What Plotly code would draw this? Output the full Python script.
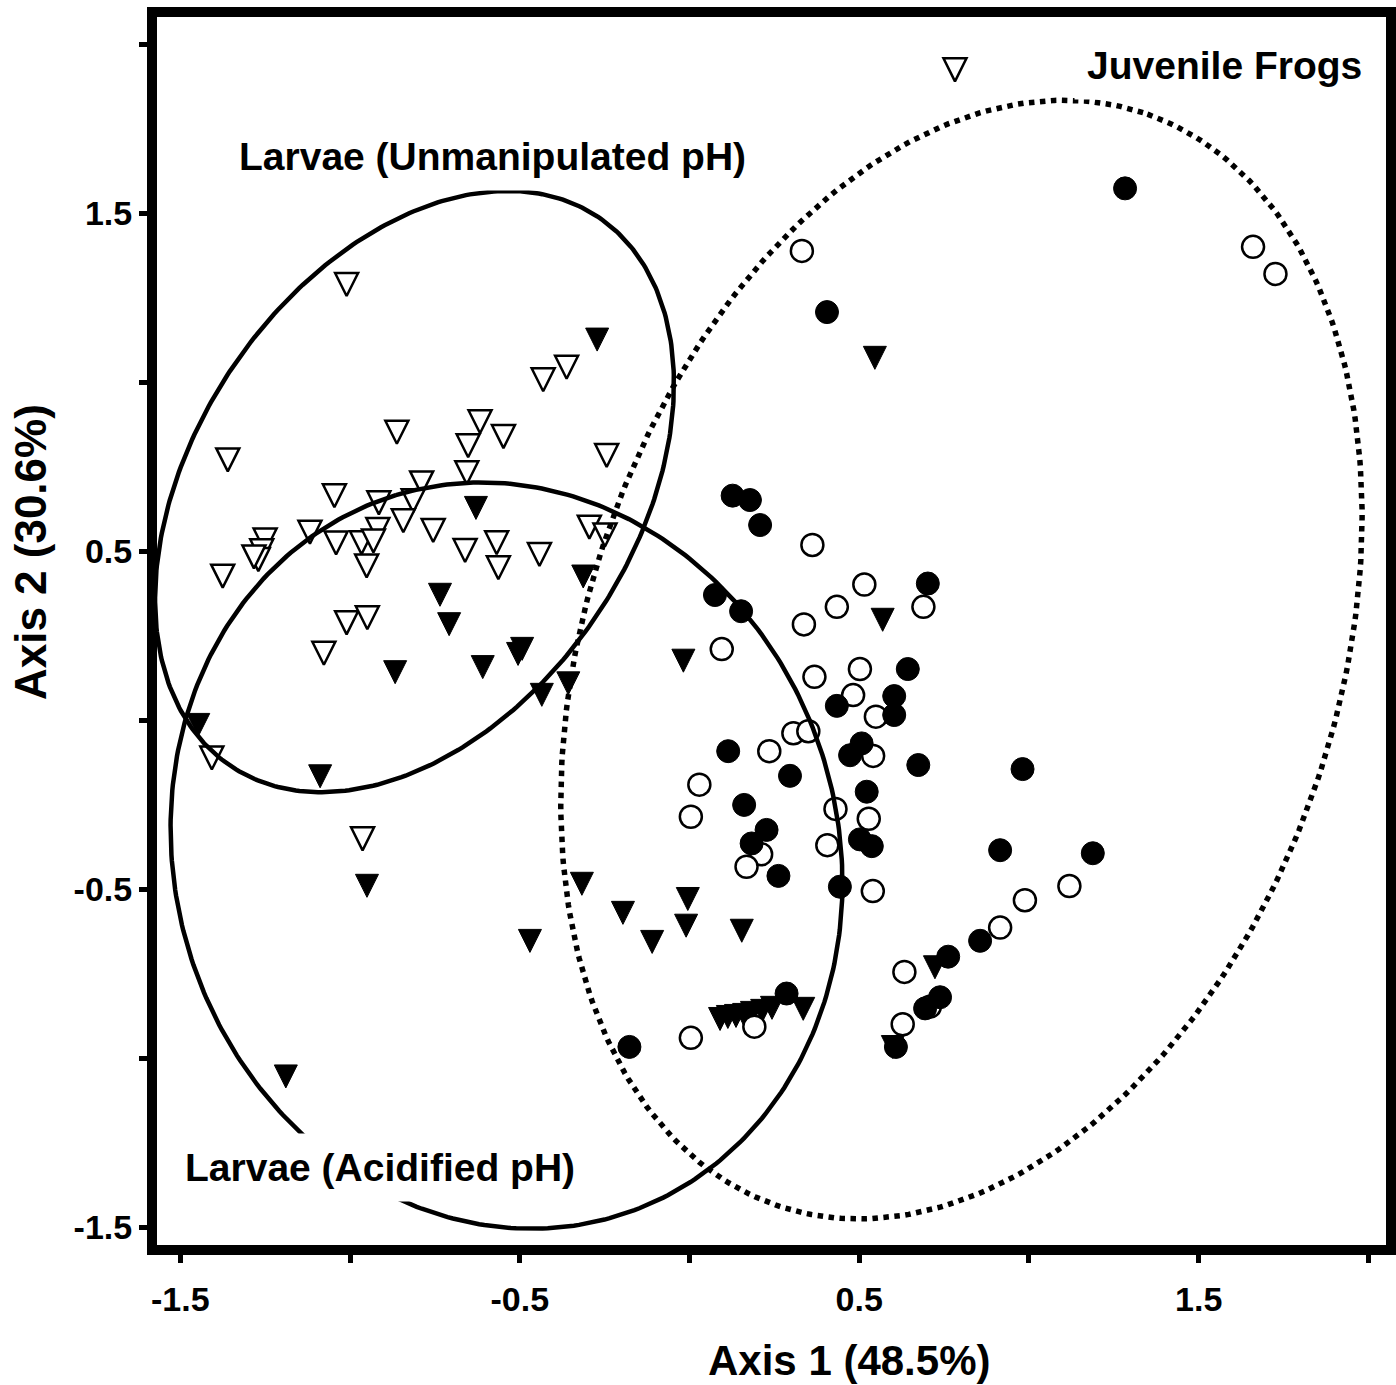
import numpy as np
import plotly.graph_objects as go

# ---------------- data ----------------
# Larvae, unmanipulated pH (open down-triangles)
unmanip_x = [-1.010, -1.360, -0.862, -0.617, -0.652, -0.548, -0.431, -0.362, -0.244, -0.656,
             -0.789, -1.046, -0.915, -0.814, -0.843, -0.918, -0.755, -1.118, -1.041, -0.966,
             -0.931, -0.951, -0.661, -0.568, -0.563, -0.442, -0.295, -0.249, -1.250, -1.260,
             -1.270, -1.283, -1.375, -1.010, -0.949, -1.077, -1.407, -0.963, 0.782]
unmanip_y = [1.300, 0.781, 0.863, 0.894, 0.823, 0.850, 1.018, 1.055, 0.794, 0.743,
             0.713, 0.675, 0.654, 0.660, 0.601, 0.575, 0.572, 0.567, 0.535, 0.536,
             0.541, 0.467, 0.513, 0.536, 0.462, 0.501, 0.582, 0.559, 0.544, 0.512,
             0.486, 0.494, 0.437, 0.299, 0.314, 0.209, -0.101, -0.340, 1.935]

# Larvae, acidified pH (filled down-triangles)
acid_x = [-0.272, -0.629, -0.735, -0.708, -0.313, -0.867, -0.609, -0.505, -0.493, -0.435,
          -0.357, -1.447, -1.088, -0.018, 0.569, 0.546, -1.189, -0.950, -0.470, -0.317,
          -0.196, -0.110, -0.005, -0.010, 0.154, 0.723, 0.335, 0.090, 0.113, 0.137,
          0.161, 0.184, 0.214, 0.243, 0.599]
acid_y = [1.137, 0.639, 0.382, 0.295, 0.436, 0.153, 0.168, 0.207, 0.222, 0.086,
          0.120, -0.003, -0.155, 0.187, 0.308, 1.083, -1.043, -0.479, -0.642, -0.473,
          -0.559, -0.645, -0.518, -0.597, -0.612, -0.720, -0.843, -0.873, -0.867, -0.864,
          -0.861, -0.855, -0.849, -0.840, -0.956]

# Juvenile frogs (open circles)
juv_open_x = [0.331, 1.660, 1.726, 0.362, 0.515, 0.434, 0.337, 0.689, 0.095, 0.368,
              0.502, 0.482, 0.549, 0.306, 0.350, 0.235, 0.541, 0.029, 0.004, 0.430,
              0.528, 0.406, 0.211, 0.168, 0.540, 1.119, 0.988, 0.915, 0.633, 0.708,
              0.628, 0.004, 0.191]
juv_open_y = [1.388, 1.400, 1.320, 0.518, 0.401, 0.335, 0.283, 0.335, 0.210, 0.128,
              0.151, 0.074, 0.010, -0.039, -0.033, -0.092, -0.106, -0.191, -0.286, -0.263,
              -0.292, -0.370, -0.397, -0.434, -0.506, -0.491, -0.533, -0.614, -0.745, -0.848,
              -0.900, -0.940, -0.907]

# Juvenile frogs (filled circles)
juv_fill_x = [1.283, 0.405, 0.127, 0.178, 0.208, 0.075, 0.152, 0.702, 0.643, 0.603,
              0.603, 0.434, 0.507, 0.473, 0.674, 0.114, 0.296, 0.161, 0.522, 0.227,
              0.183, 0.502, 0.537, 0.262, 0.443, 0.981, 0.915, 1.188, 0.856, 0.762,
              0.738, 0.694, 0.608, 0.286, -0.177]
juv_fill_y = [1.573, 1.207, 0.664, 0.651, 0.577, 0.370, 0.322, 0.404, 0.151, 0.071,
              0.015, 0.042, -0.069, -0.104, -0.133, -0.092, -0.165, -0.251, -0.212, -0.325,
              -0.365, -0.353, -0.373, -0.461, -0.493, -0.145, -0.385, -0.394, -0.653, -0.700,
              -0.820, -0.853, -0.967, -0.809, -0.967]

# Group ellipses: centre, semi-axes, rotation (degrees)
ellipse_names = ["Larvae (Unmanipulated pH)", "Larvae (Acidified pH)", "Juvenile Frogs"]
ellipse_cx = [-0.810, -0.539, 0.801]
ellipse_cy = [0.676, -0.401, 0.179]
ellipse_a = [0.976, 1.115, 1.704]
ellipse_b = [0.650, 0.977, 1.108]
ellipse_angle = [56.5, 107.0, 71.7]
ellipse_dash = ["solid", "solid", "dot"]

# Group labels (data coordinates)
label_text = ["Larvae (Unmanipulated pH)", "Larvae (Acidified pH)", "Juvenile Frogs"]
label_x = [-0.580, -0.912, 1.577]
label_y = [1.668, -1.325, 1.938]

x_ticks = [-1.5, -1.0, -0.5, 0.0, 0.5, 1.0, 1.5, 2.0]
x_ticktext = ["-1.5", "", "-0.5", "", "0.5", "", "1.5", ""]
y_ticks = [-1.5, -1.0, -0.5, 0.0, 0.5, 1.0, 1.5, 2.0]
y_ticktext = ["-1.5", "", "-0.5", "", "0.5", "", "1.5", ""]

x_title = "Axis 1 (48.5%)"
y_title = "Axis 2 (30.6%)"

# ---------------- figure ----------------
FONT = "Liberation Sans, Arial, sans-serif"
fig = go.Figure()

TRI = 23
fig.add_trace(go.Scatter(
    x=acid_x, y=acid_y, mode="markers", name="Larvae (Acidified pH)",
    marker=dict(symbol="arrow-down", size=TRI, standoff=TRI * 2 / 3, color="black",
                line=dict(color="black", width=1))))
fig.add_trace(go.Scatter(
    x=unmanip_x, y=unmanip_y, mode="markers", name="Larvae (Unmanipulated pH)",
    marker=dict(symbol="arrow-down", size=TRI, standoff=TRI * 2 / 3, color="white",
                line=dict(color="black", width=2.5))))
fig.add_trace(go.Scatter(
    x=juv_open_x, y=juv_open_y, mode="markers", name="Juvenile Frogs (open)",
    marker=dict(symbol="circle", size=22, color="white",
                line=dict(color="black", width=2.5))))
fig.add_trace(go.Scatter(
    x=juv_fill_x, y=juv_fill_y, mode="markers", name="Juvenile Frogs (filled)",
    marker=dict(symbol="circle", size=23, color="black",
                line=dict(color="black", width=1))))

t = np.linspace(0, 2 * np.pi, 400)
for cx, cy, a, b, ang, dash, nm in zip(ellipse_cx, ellipse_cy, ellipse_a, ellipse_b,
                                       ellipse_angle, ellipse_dash, ellipse_names):
    th = np.deg2rad(ang)
    ex = cx + a * np.cos(th) * np.cos(t) - b * np.sin(th) * np.sin(t)
    ey = cy + a * np.sin(th) * np.cos(t) + b * np.cos(th) * np.sin(t)
    fig.add_trace(go.Scatter(x=ex, y=ey, mode="lines", name=nm, hoverinfo="skip",
                             line=dict(color="black", width=5.5 if dash == "dot" else 4.5,
                                       dash=dash)))

for txt, lx, ly in zip(label_text, label_x, label_y):
    fig.add_annotation(x=lx, y=ly, xref="x", yref="y", text=txt, showarrow=False,
                       font=dict(family=FONT, size=39, color="black", weight="bold"),
                       bgcolor="white", borderpad=12)

fig.add_annotation(x=0.563, y=-0.0937, xref="paper", yref="paper", text=x_title,
                   showarrow=False, xanchor="center", yanchor="middle",
                   font=dict(family=FONT, size=42, color="black", weight="bold"))
fig.add_annotation(x=-0.1033, y=0.5643, xref="paper", yref="paper", text=y_title,
                   showarrow=False, textangle=-90, xanchor="center", yanchor="middle",
                   font=dict(family=FONT, size=44, color="black", weight="bold"))

axis_common = dict(showgrid=False, zeroline=False, showline=True, linecolor="black",
                   linewidth=10, mirror=True, ticks="outside", ticklen=8, tickwidth=5,
                   tickcolor="black", automargin=False,
                   tickfont=dict(family=FONT, size=34, color="black", weight="bold"))
fig.update_xaxes(range=[-1.5685, 2.0516], tickmode="array", tickvals=x_ticks,
                 ticktext=x_ticktext, ticklabelstandoff=7, **axis_common)
fig.update_yaxes(range=[-1.553, 2.080], tickmode="array", tickvals=y_ticks,
                 ticktext=y_ticktext, **axis_common)

fig.update_layout(width=1396, height=1385, showlegend=False,
                  margin=dict(l=157, r=10, t=17, b=140, pad=0, autoexpand=False),
                  paper_bgcolor="white", plot_bgcolor="white")

fig.write_html("out.html")
